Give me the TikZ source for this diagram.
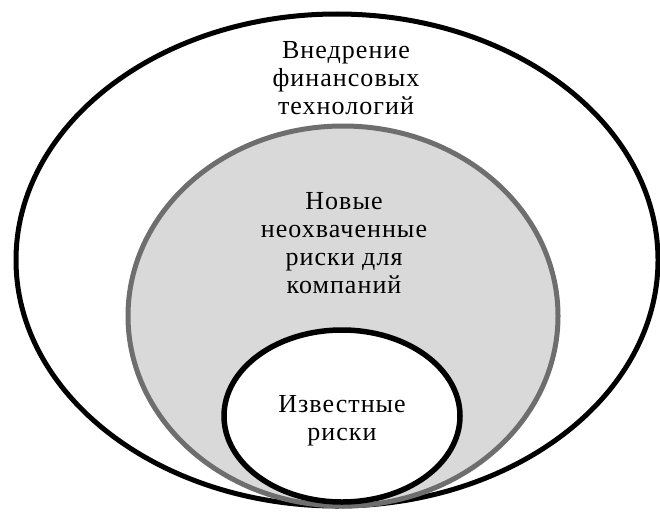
\documentclass[tikz,border=0pt]{standalone}
\usepackage{fontspec}
\setmainfont{Liberation Serif}[LetterSpace=4]
\usepackage{tikz}
\usetikzlibrary{positioning}
\definecolor{ringgray}{RGB}{110,110,110}
\definecolor{fillgray}{RGB}{217,217,217}

\begin{document}
\begin{tikzpicture}[
    x=1pt, y=-1pt,
    ring/.style={draw=black, line width=5pt, fill=white},
    midring/.style={draw=ringgray, line width=5pt, fill=fillgray},
    label/.style={align=center, font=\fontsize{26}{28}\selectfont, inner sep=0pt}
]
    \useasboundingbox (0,0) rectangle (660,511);

    % Ellipses from outside in
    \coordinate (outerc) at (337,260);
    \coordinate (midc) at (343,316);
    \coordinate (innerc) at (342,416);
    \draw[ring] (outerc) ellipse [x radius=321, y radius=246];
    \draw[midring] (midc) ellipse [x radius=215, y radius=190];
    \draw[ring, line width=5.5pt] (innerc) ellipse [x radius=118, y radius=86];

    % Labels
    \node[label] (fintech) at (346,78) {Внедрение\\финансовых\\технологий};
    \node[label] (newrisks) at (344,243) {Новые\\неохваченные\\риски для\\компаний};
    \node[label] (knownrisks) at (342,421) {Известные\\риски};
\end{tikzpicture}
\end{document}
